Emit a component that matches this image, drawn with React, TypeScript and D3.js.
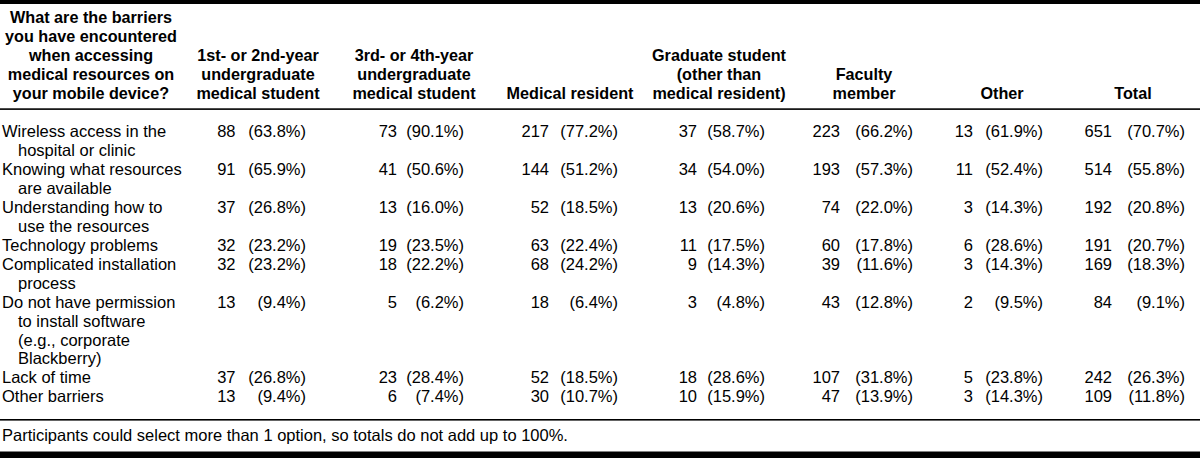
import React from "react";
import * as d3 from "d3";

// ---------- DATA ----------
const headerQuestion = [
  "What are the barriers",
  "you have encountered",
  "when accessing",
  "medical resources on",
  "your mobile device?",
];

const groupHeaders: string[][] = [
  ["1st- or 2nd-year", "undergraduate", "medical student"],
  ["3rd- or 4th-year", "undergraduate", "medical student"],
  ["Medical resident"],
  ["Graduate student", "(other than", "medical resident)"],
  ["Faculty", "member"],
  ["Other"],
  ["Total"],
];

const barriers: string[][] = [
  ["Wireless access in the", "hospital or clinic"],
  ["Knowing what resources", "are available"],
  ["Understanding how to", "use the resources"],
  ["Technology problems"],
  ["Complicated installation", "process"],
  ["Do not have permission", "to install software", "(e.g., corporate", "Blackberry)"],
  ["Lack of time"],
  ["Other barriers"],
];

const countsYear12 = [88, 91, 37, 32, 32, 13, 37, 13];
const pctYear12 = ["63.8", "65.9", "26.8", "23.2", "23.2", "9.4", "26.8", "9.4"];
const countsYear34 = [73, 41, 13, 19, 18, 5, 23, 6];
const pctYear34 = ["90.1", "50.6", "16.0", "23.5", "22.2", "6.2", "28.4", "7.4"];
const countsResident = [217, 144, 52, 63, 68, 18, 52, 30];
const pctResident = ["77.2", "51.2", "18.5", "22.4", "24.2", "6.4", "18.5", "10.7"];
const countsGrad = [37, 34, 13, 11, 9, 3, 18, 10];
const pctGrad = ["58.7", "54.0", "20.6", "17.5", "14.3", "4.8", "28.6", "15.9"];
const countsFaculty = [223, 193, 74, 60, 39, 43, 107, 47];
const pctFaculty = ["66.2", "57.3", "22.0", "17.8", "11.6", "12.8", "31.8", "13.9"];
const countsOther = [13, 11, 3, 6, 3, 2, 5, 3];
const pctOther = ["61.9", "52.4", "14.3", "28.6", "14.3", "9.5", "23.8", "14.3"];
const countsTotal = [651, 514, 192, 191, 169, 84, 242, 109];
const pctTotal = ["70.7", "55.8", "20.8", "20.7", "18.3", "9.1", "26.3", "11.8"];

const footnote =
  "Participants could select more than 1 option, so totals do not add up to 100%.";

const seriesCounts = [countsYear12, countsYear34, countsResident, countsGrad, countsFaculty, countsOther, countsTotal];
const seriesPct = [pctYear12, pctYear34, pctResident, pctGrad, pctFaculty, pctOther, pctTotal];

// ---------- LAYOUT ----------
const W = 1200;
const H = 458;
const FONT = "'Liberation Sans', Arial, Helvetica, sans-serif";
const FS = 16.5;
const HFS = 16.2;
const headerCenters = [258, 414, 570, 719, 864, 1002, 1133];
const countRight = [235.5, 397, 549, 697, 840, 973, 1112];
const pctRight = [306, 464, 618, 765, 913, 1043, 1185];
const questionCenter = 91;

export default function App() {
  // line index -> baseline y
  const lineY = d3.scaleLinear().domain([0, 1]).range([137.3, 137.3 + 18.93]);
  const headY = d3.scaleLinear().domain([0, 1]).range([99, 99 - 18.9]); // from bottom

  // starting line index of each row
  const starts: number[] = [];
  let acc = 0;
  barriers.forEach((b) => {
    starts.push(acc);
    acc += b.length;
  });

  return (
    <svg
      width={W}
      height={H}
      style={{ position: "absolute", left: 0, top: 0, background: "#fff" }}
      fontFamily={FONT}
      fontSize={FS}
    >
      <rect x={0} y={0} width={W} height={H} fill="#fff" />
      {/* rules */}
      <rect x={0} y={0} width={W} height={4} fill="#000" />
      <rect x={0} y={108.3} width={W} height={1.6} fill="#000" />
      <rect x={0} y={419} width={W} height={1.6} fill="#000" />
      <rect x={0} y={451.5} width={W} height={H - 451.5} fill="#000" />

      {/* header */}
      <g fontWeight="bold" textAnchor="middle" fill="#000" fontSize={HFS}>
        {headerQuestion.map((t, i) => (
          <text key={i} x={questionCenter} y={headY(headerQuestion.length - 1 - i)}>
            {t}
          </text>
        ))}
        {groupHeaders.map((lines, c) =>
          lines.map((t, i) => (
            <text key={c + "-" + i} x={headerCenters[c]} y={headY(lines.length - 1 - i)}>
              {t}
            </text>
          ))
        )}
      </g>

      {/* body */}
      <g fill="#000">
        {barriers.map((lines, r) =>
          lines.map((t, i) => (
            <text key={r + "-" + i} x={i === 0 ? 2 : 18} y={lineY(starts[r] + i)}>
              {t}
            </text>
          ))
        )}
        {seriesCounts.map((counts, c) =>
          counts.map((v, r) => (
            <g key={c + "-" + r}>
              <text x={countRight[c]} y={lineY(starts[r])} textAnchor="end">
                {v}
              </text>
              <text x={pctRight[c]} y={lineY(starts[r])} textAnchor="end">
                {"(" + seriesPct[c][r] + "%)"}
              </text>
            </g>
          ))
        )}
      </g>

      <text x={2} y={441} fill="#000">
        {footnote}
      </text>
    </svg>
  );
}
